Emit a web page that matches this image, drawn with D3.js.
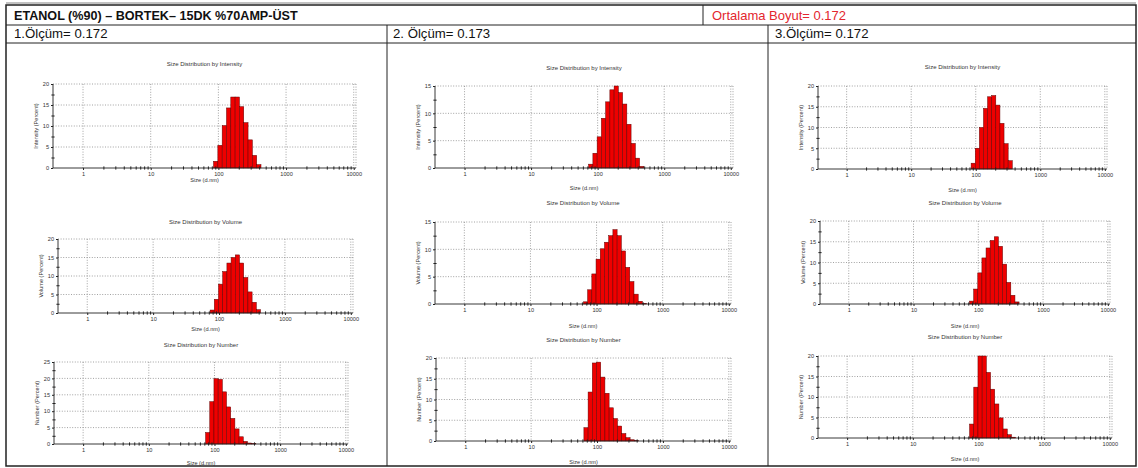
<!DOCTYPE html>
<html><head><meta charset="utf-8">
<script src="https://cdn.jsdelivr.net/npm/d3@7"></script>
<style>body{margin:0;background:#fff}svg{display:block}</style>
</head><body>
<script>
// ---------- DATA ----------
const headerTitle = "ETANOL (%90) – BORTEK– 15DK %70AMP-ÜST";
const averageLabel = "Ortalama Boyut= 0.172";
const measurementLabels = ["1.Ölçüm= 0.172", "2. Ölçüm= 0.173", "3.Ölçüm= 0.172"];
const chartTitles = ["Size Distribution by Intensity", "Size Distribution by Volume", "Size Distribution by Number"];
const yAxisLabels = ["Intensity (Percent)", "Volume (Percent)", "Number (Percent)"];
const xAxisLabel = "Size (d.nm)";
const xTickValues = [1, 10, 100, 1000, 10000];
const xMinorTicks = [2,3,4,5,6,7,8,9,20,30,40,50,60,70,80,90,200,300,400,500,600,700,800,900,2000,3000,4000,5000,6000,7000,8000,9000];
const yTicks15 = [0, 5, 10, 15];
const yTicks20 = [0, 5, 10, 15, 20];
const yTicks25 = [0, 5, 10, 15, 20, 25];
// size classes (d.nm)
const sizeClasses = [68.06, 78.82, 91.28, 105.7, 122.4, 141.8, 164.2, 190.1, 220.2, 255.0, 295.3, 342.0, 396.1, 458.7, 531.2];
// percent per size class
const m1Intensity = [0, 0, 1.6, 5.4, 10.1, 14.3, 16.9, 16.9, 14.6, 10.8, 6.7, 3.0, 0.8, 0, 0];
const m1Volume    = [0, 0.8, 3.7, 7.8, 11.2, 13.5, 15.0, 15.7, 13.5, 9.6, 5.7, 2.9, 0.9, 0, 0];
const m1Number    = [0, 3.5, 12.9, 19.9, 19.7, 15.9, 11.3, 7.8, 4.6, 2.2, 0.8, 0.3, 0.1, 0, 0];
const m2Intensity = [0, 0.7, 2.7, 5.7, 9.1, 12.1, 14.3, 15.0, 13.8, 11.7, 8.0, 4.5, 1.8, 0.3, 0];
const m2Volume    = [0.4, 2.6, 5.5, 8.2, 10.1, 11.3, 12.5, 13.6, 12.5, 9.7, 6.7, 4.1, 1.8, 0.5, 0.1];
const m2Number    = [3.2, 11.8, 18.8, 19.0, 15.4, 11.5, 8.0, 5.4, 3.6, 1.8, 0.8, 0.3, 0.1, 0, 0];
const m3Intensity = [0, 0, 1.4, 5.0, 10.0, 14.6, 17.4, 17.7, 15.4, 11.0, 6.1, 2.0, 0, 0, 0];
const m3Volume    = [0, 0.7, 3.6, 7.5, 11.1, 13.5, 15.3, 16.2, 13.9, 9.6, 5.2, 2.1, 0.5, 0, 0];
const m3Number    = [0, 3.4, 12.4, 20.0, 20.0, 16.0, 11.9, 8.3, 4.9, 2.2, 0.8, 0.2, 0, 0, 0];

// ---------- LAYOUT ----------
const W = 1138, H = 468;
const svg = d3.select("body").append("svg").attr("width", W).attr("height", H);
svg.append("rect").attr("width", W).attr("height", H).attr("fill", "#fff");

const chartFont = "'Liberation Sans', Arial, sans-serif";
const tableFont = "'Liberation Sans', Arial, sans-serif";

const charts = [
  {series: m1Intensity, ticks: yTicks20, kind: 0, box: {l: 53, r: 356, t: 84, b: 168, ty: 66, xy: 182}},
  {series: m1Volume,    ticks: yTicks20, kind: 1, box: {l: 58, r: 353, t: 239, b: 313, ty: 224, xy: 331}},
  {series: m1Number,    ticks: yTicks25, kind: 2, box: {l: 54, r: 348, t: 362, b: 444, ty: 347, xy: 465}},
  {series: m2Intensity, ticks: yTicks15, kind: 0, box: {l: 435, r: 733, t: 86, b: 168, ty: 70, xy: 190}},
  {series: m2Volume,    ticks: yTicks15, kind: 1, box: {l: 435, r: 731, t: 222, b: 304, ty: 205, xy: 328}},
  {series: m2Number,    ticks: yTicks20, kind: 2, box: {l: 436, r: 731, t: 358, b: 441, ty: 342, xy: 464}},
  {series: m3Intensity, ticks: yTicks20, kind: 0, box: {l: 818, r: 1107, t: 86, b: 169, ty: 69, xy: 192}},
  {series: m3Volume,    ticks: yTicks20, kind: 1, box: {l: 820, r: 1110, t: 221, b: 304, ty: 205, xy: 328}},
  {series: m3Number,    ticks: yTicks20, kind: 2, box: {l: 818, r: 1112, t: 356, b: 438, ty: 339, xy: 461}}
];

// bin edges = geometric midpoints between size classes
const ratio = sizeClasses[1] / sizeClasses[0];
const half = Math.sqrt(ratio);

function drawChart(c) {
  const b = c.box;
  const yMax = c.ticks[c.ticks.length - 1];
  const x = d3.scaleLog().domain([0.36, 10800]).range([b.l, b.r]);
  const y = d3.scaleLinear().domain([0, yMax]).range([b.b, b.t]);
  const g = svg.append("g").attr("font-family", chartFont).attr("fill", "#333");

  g.append("text").attr("x", (b.l + b.r) / 2).attr("y", b.ty)
    .attr("text-anchor", "middle").attr("font-size", 6).attr("fill", "#333").text(chartTitles[c.kind]);

  // grid
  const grid = g.append("g").attr("stroke", "#8a8a8a").attr("stroke-width", 0.8).attr("stroke-dasharray", "1,1.6");
  xTickValues.forEach(v => grid.append("line").attr("x1", x(v)).attr("x2", x(v)).attr("y1", b.t).attr("y2", b.b));
  grid.append("line").attr("x1", b.r).attr("x2", b.r).attr("y1", b.t).attr("y2", b.b);
  c.ticks.filter(v => v > 0).forEach(v => grid.append("line").attr("x1", b.l).attr("x2", b.r).attr("y1", y(v)).attr("y2", y(v)));

  // bars
  const data = sizeClasses.map((s, i) => ({s, v: c.series[i]})).filter(d => d.v > 0);
  g.append("g").selectAll("rect").data(data).join("rect")
    .attr("x", d => x(d.s / half))
    .attr("width", d => x(d.s * half) - x(d.s / half))
    .attr("y", d => y(d.v))
    .attr("height", d => y(0) - y(d.v))
    .attr("fill", "#ee0000").attr("stroke", "#600000").attr("stroke-width", 0.5);

  // x axis
  const xa = g.append("g").attr("transform", `translate(0,${b.b})`)
    .call(d3.axisBottom(x).tickValues(xTickValues).tickFormat(d3.format("d")).tickSize(2).tickPadding(2));
  xa.select(".domain").attr("stroke", "#222").attr("stroke-width", 0.9).attr("d", `M${b.l},0H${b.r}`);
  xa.selectAll(".tick line").attr("stroke", "#222");
  xa.selectAll("text").attr("font-size", 5.6).attr("fill", "#333").attr("font-family", chartFont);
  const xm = g.append("g").attr("transform", `translate(0,${b.b})`)
    .call(d3.axisBottom(x).tickValues(xMinorTicks).tickFormat("").tickSize(1.6));
  xm.select(".domain").remove();
  xm.selectAll(".tick line").attr("stroke", "#222").attr("y1", -1.6);

  // y axis
  const ya = g.append("g").attr("transform", `translate(${b.l},0)`)
    .call(d3.axisLeft(y).tickValues(c.ticks).tickFormat(d3.format("d")).tickSize(2).tickPadding(2));
  ya.select(".domain").attr("stroke", "#222").attr("stroke-width", 0.9).attr("d", `M0,${b.t}V${b.b}`);
  ya.selectAll(".tick line").attr("stroke", "#222");
  ya.selectAll("text").attr("font-size", 5.6).attr("fill", "#333").attr("font-family", chartFont);
  const yMinor = c.ticks.slice(0, -1).map(v => v + 2.5);
  const ym = g.append("g").attr("transform", `translate(${b.l},0)`)
    .call(d3.axisLeft(y).tickValues(yMinor).tickFormat("").tickSize(1.6));
  ym.select(".domain").remove();
  ym.selectAll(".tick line").attr("stroke", "#222").attr("x1", 1.6);

  // labels
  g.append("text").attr("x", (b.l + b.r) / 2).attr("y", b.xy).attr("text-anchor", "middle")
    .attr("font-size", 5.6).attr("fill", "#333").text(xAxisLabel);
  g.append("text").attr("transform", `translate(${b.l - 15},${(b.t + b.b) / 2}) rotate(-90)`)
    .attr("text-anchor", "middle").attr("font-size", 5.6).attr("fill", "#333").text(yAxisLabels[c.kind]);
}
charts.forEach(drawChart);

// ---------- TABLE ----------
const T = svg.append("g").attr("stroke", "#222").attr("fill", "none");
const L = 6, R = 1136, TOP = 5, B = 466;
T.append("line").attr("x1", L).attr("x2", R).attr("y1", TOP - 2).attr("y2", TOP - 2).attr("stroke-width", 0.8).attr("stroke", "#666");
T.append("rect").attr("x", L).attr("y", TOP).attr("width", R - L).attr("height", B - TOP).attr("stroke-width", 1.5);
T.append("line").attr("x1", L).attr("x2", R).attr("y1", 25).attr("y2", 25).attr("stroke-width", 1);
T.append("line").attr("x1", L).attr("x2", R).attr("y1", 43).attr("y2", 43).attr("stroke-width", 1);
T.append("line").attr("x1", 703).attr("x2", 703).attr("y1", TOP).attr("y2", 25).attr("stroke-width", 1);
T.append("line").attr("x1", 387).attr("x2", 387).attr("y1", 25).attr("y2", B).attr("stroke-width", 1);
T.append("line").attr("x1", 768).attr("x2", 768).attr("y1", 25).attr("y2", B).attr("stroke-width", 1);

const TT = svg.append("g").attr("font-family", tableFont);
TT.append("text").attr("x", 14).attr("y", 20).attr("font-size", 12.6).attr("font-weight", "bold").attr("fill", "#111").text(headerTitle);
TT.append("text").attr("x", 712).attr("y", 20).attr("font-size", 13).attr("fill", "#e3262e").text(averageLabel);
const colX = [14, 393, 775];
measurementLabels.forEach((t, i) => TT.append("text").attr("x", colX[i]).attr("y", 38).attr("font-size", 13.2).attr("fill", "#111").text(t));
</script>
</body></html>
